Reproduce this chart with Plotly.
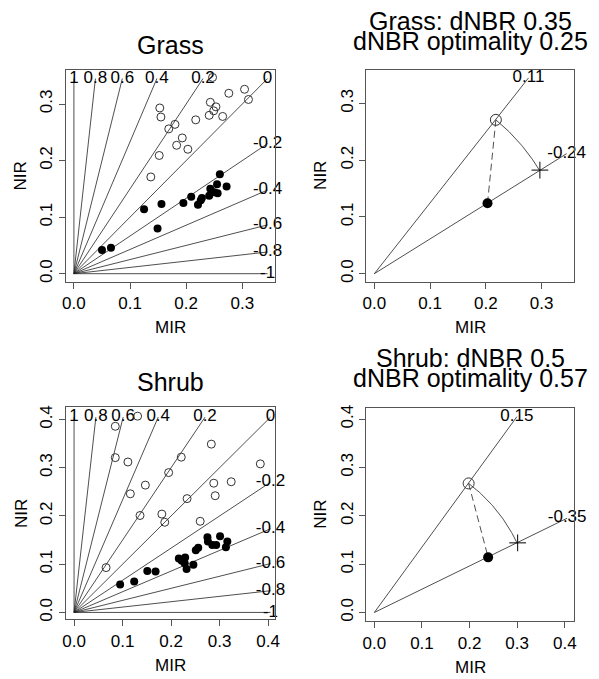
import numpy as np
import plotly.graph_objects as go

# ---------------- data ----------------
nbr_levels = [1, 0.8, 0.6, 0.4, 0.2, 0, -0.2, -0.4, -0.6, -0.8, -1]
nbr_labels = ["1", "0.8", "0.6", "0.4", "0.2", "0", "-0.2", "-0.4", "-0.6", "-0.8", "-1"]

grass_pre_mir = [0.153, 0.155, 0.169, 0.180, 0.217, 0.193, 0.183, 0.203, 0.152, 0.137,
                 0.243, 0.253, 0.249, 0.241, 0.265, 0.276, 0.304, 0.311, 0.247]
grass_pre_nir = [0.293, 0.277, 0.256, 0.264, 0.272, 0.240, 0.227, 0.220, 0.209, 0.171,
                 0.303, 0.295, 0.288, 0.280, 0.278, 0.319, 0.326, 0.308, 0.347]
grass_post_mir = [0.050, 0.066, 0.125, 0.149, 0.156, 0.195, 0.209, 0.221, 0.226, 0.228,
                  0.241, 0.243, 0.255, 0.256, 0.260, 0.272, 0.250]
grass_post_nir = [0.042, 0.046, 0.114, 0.080, 0.123, 0.125, 0.136, 0.122, 0.130, 0.134,
                  0.138, 0.150, 0.158, 0.142, 0.176, 0.154, 0.144]

shrub_pre_mir = [0.085, 0.131, 0.085, 0.111, 0.116, 0.147, 0.136, 0.195, 0.221, 0.181,
                 0.187, 0.233, 0.283, 0.288, 0.291, 0.324, 0.260, 0.384, 0.066]
shrub_pre_nir = [0.386, 0.407, 0.321, 0.312, 0.246, 0.264, 0.201, 0.290, 0.322, 0.204,
                 0.187, 0.236, 0.349, 0.268, 0.242, 0.271, 0.189, 0.308, 0.093]
shrub_post_mir = [0.095, 0.124, 0.151, 0.168, 0.216, 0.229, 0.228, 0.232, 0.246, 0.251,
                  0.256, 0.275, 0.276, 0.285, 0.293, 0.301, 0.313, 0.316, 0.222]
shrub_post_nir = [0.058, 0.064, 0.086, 0.085, 0.112, 0.114, 0.102, 0.090, 0.099, 0.129,
                  0.134, 0.156, 0.147, 0.140, 0.140, 0.158, 0.135, 0.147, 0.107]

grass_max = 0.345
shrub_max = 0.405

# summary (right panels)
grass_pre_pt = (0.218, 0.271)
grass_post_pt = (0.203, 0.124)
grass_opt_pt = (0.297, 0.1825)
grass_line_nbr = [0.11, -0.24]
grass_line_labels = ["0.11", "-0.24"]
grass_title = ["Grass: dNBR 0.35", "dNBR optimality 0.25"]

shrub_pre_pt = (0.198, 0.267)
shrub_post_pt = (0.239, 0.114)
shrub_opt_pt = (0.301, 0.144)
shrub_line_nbr = [0.15, -0.35]
shrub_line_labels = ["0.15", "-0.35"]
shrub_title = ["Shrub: dNBR 0.5", "dNBR optimality 0.57"]

# ---------------- layout helpers ----------------
W, H = 599, 679
FONT = "Liberation Sans"


def px_x(p):
    return p / W


def px_y(p):
    return 1 - p / H


def endpoint(v, M):
    if v >= 1:
        return 0.0, M
    if v <= -1:
        return M, 0.0
    s = (1 + v) / (1 - v)
    if s >= 1:
        return M / s, M
    return M, M * s


fig = go.Figure()

LINE_COL = "#222"


def add_fan(ax, levels, labels, M):
    xs, ys, tx, ty = [], [], [], []
    for v in levels:
        ex, ey = endpoint(v, M)
        xs += [0, ex, None]
        ys += [0, ey, None]
        tx.append(ex)
        ty.append(ey)
    fig.add_trace(go.Scatter(x=xs, y=ys, mode="lines", xaxis="x" + ax, yaxis="y" + ax,
                             line=dict(color=LINE_COL, width=0.8), hoverinfo="skip",
                             showlegend=False, cliponaxis=False))
    fig.add_trace(go.Scatter(x=tx, y=ty, mode="text", text=labels, xaxis="x" + ax,
                             yaxis="y" + ax, textposition="middle center",
                             textfont=dict(family=FONT, size=17, color="black"),
                             showlegend=False, cliponaxis=False, hoverinfo="skip"))


def add_points(ax, mx, my, filled, size):
    if filled:
        mk = dict(symbol="circle", size=size, color="black", line=dict(width=0))
    else:
        mk = dict(symbol="circle-open", size=size, color="#333", line=dict(width=1, color="#333"))
    fig.add_trace(go.Scatter(x=mx, y=my, mode="markers", xaxis="x" + ax, yaxis="y" + ax,
                             marker=mk, showlegend=False, cliponaxis=False))


def add_summary(ax, pre, post, opt, M, levels, labels):
    add_fan(ax, levels, labels, M)
    r = np.hypot(*pre)
    a0 = np.arctan2(pre[1], pre[0])
    a1 = np.arctan2(opt[1], opt[0])
    t = np.linspace(a0, a1, 60)
    fig.add_trace(go.Scatter(x=r * np.cos(t), y=r * np.sin(t), mode="lines",
                             xaxis="x" + ax, yaxis="y" + ax,
                             line=dict(color=LINE_COL, width=0.8), showlegend=False))
    fig.add_trace(go.Scatter(x=[pre[0], post[0]], y=[pre[1], post[1]], mode="lines",
                             xaxis="x" + ax, yaxis="y" + ax,
                             line=dict(color=LINE_COL, width=0.8, dash="7px,4px"), showlegend=False))
    add_points(ax, [pre[0]], [pre[1]], False, 11)
    add_points(ax, [post[0]], [post[1]], True, 10)
    fig.add_trace(go.Scatter(x=[opt[0]], y=[opt[1]], mode="markers", xaxis="x" + ax, yaxis="y" + ax,
                             marker=dict(symbol="cross-thin", size=12, line=dict(width=1, color="black")),
                             showlegend=False))


# panel 1: grass scatter
add_fan("", nbr_levels, nbr_labels, grass_max)
add_points("", grass_pre_mir, grass_pre_nir, False, 8)
add_points("", grass_post_mir, grass_post_nir, True, 8)
# panel 2: grass summary
add_summary("2", grass_pre_pt, grass_post_pt, grass_opt_pt, grass_max, grass_line_nbr, grass_line_labels)
# panel 3: shrub scatter
add_fan("3", nbr_levels, nbr_labels, shrub_max)
add_points("3", shrub_pre_mir, shrub_pre_nir, False, 8)
add_points("3", shrub_post_mir, shrub_post_nir, True, 8)
# panel 4: shrub summary
add_summary("4", shrub_pre_pt, shrub_post_pt, shrub_opt_pt, shrub_max, shrub_line_nbr, shrub_line_labels)

boxes = {
    "1": (63, 275, 67, 281),
    "2": (368, 579, 67, 281),
    "3": (63, 275, 407, 621),
    "4": (368, 579, 408, 623),
}
xranges = {"1": [-0.014, 0.358], "2": [-0.0141, 0.3587], "3": [-0.0165, 0.414], "4": [-0.0166, 0.42]}
yranges = {"1": [-0.0146, 0.361], "2": [-0.0145, 0.3597], "3": [-0.0145, 0.426], "4": [-0.0185, 0.423]}

base_axis = dict(showline=True, linecolor="#555", linewidth=1, mirror=True, ticks="outside",
                 ticklen=6, tickcolor="#555", tickwidth=1, showgrid=False, zeroline=False,
                 tickfont=dict(family=FONT, size=17, color="black"), tickformat=".1f",
                 tick0=0, dtick=0.1, fixedrange=True)

layout_axes = {}
for k, (x0, x1, y0, y1) in boxes.items():
    sfx = "" if k == "1" else k
    layout_axes["xaxis" + sfx] = dict(base_axis, domain=[px_x(x0), px_x(x1)], range=xranges[k],
                                      anchor="y" + sfx)
    layout_axes["yaxis" + sfx] = dict(base_axis, domain=[px_y(y1), px_y(y0)], range=yranges[k],
                                      anchor="x" + sfx, tickangle=-90)

ann = []


def txt(x, y, s, size, angle=0):
    ann.append(dict(x=px_x(x), y=px_y(y), xref="paper", yref="paper", text=s, showarrow=False,
                    xanchor="center", yanchor="middle", textangle=angle,
                    font=dict(family=FONT, size=size, color="black")))


# titles
txt(169, 42, "Grass", 25)
txt(473.5, 18, grass_title[0], 25)
txt(473.5, 38, grass_title[1], 25)
txt(169, 382, "Shrub", 25)
txt(473.5, 358, shrub_title[0], 25)
txt(473.5, 378, shrub_title[1], 25)
# axis titles
for k, (x0, x1, y0, y1) in boxes.items():
    txt((x0 + x1) / 2, y1 + 46, "MIR", 17)
    txt(x0 - 46, (y0 + y1) / 2, "NIR", 17, -90)

fig.update_layout(width=W, height=H, margin=dict(l=0, r=0, t=0, b=0),
                  paper_bgcolor="white", plot_bgcolor="white", showlegend=False,
                  hovermode=False, annotations=ann, **layout_axes)

fig.write_html("out.html", config={"displayModeBar": False},
               post_script="document.body.style.margin='0';document.body.style.overflow='hidden';")
